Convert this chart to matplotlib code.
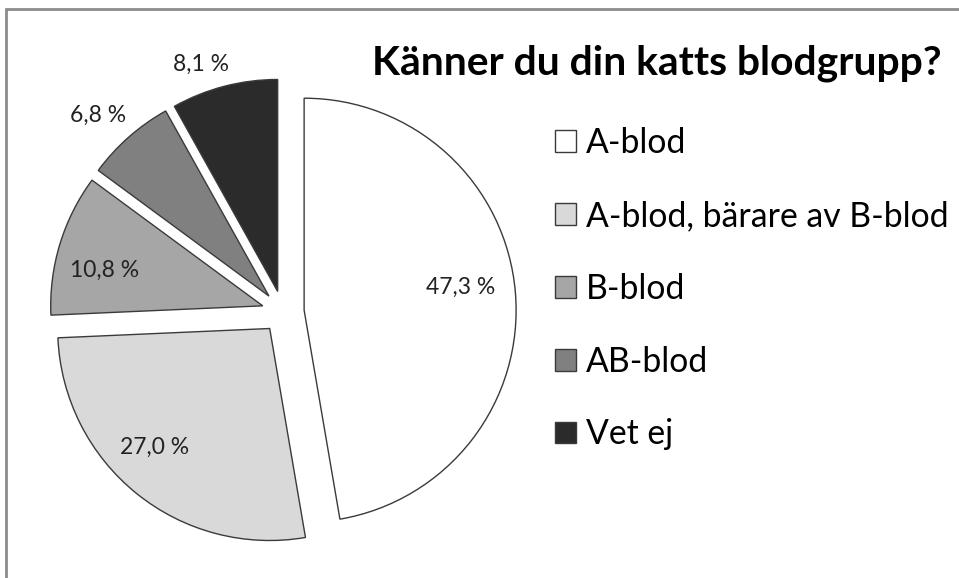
import matplotlib
matplotlib.use("Agg")
import matplotlib.pyplot as plt
import matplotlib.patches as mpatches
import numpy as np

categories = ["A-blod", "A-blod, bärare av B-blod", "B-blod", "AB-blod", "Vet ej"]
shares = [47.3, 27.0, 10.8, 6.8, 8.1]
colors = ["#ffffff", "#d9d9d9", "#a6a6a6", "#808080", "#2b2b2b"]
# where each % label sits relative to its (exploded) wedge centre:
# distance in radii, and a small turn (degrees) away from the wedge middle
label_dist = [0.748, 0.778, 0.767, 1.175, 1.13]
label_turn = [3.5, -5.2, 4.2, 2.0, 4.1]

plt.rcParams['font.family'] = ['Lato', 'DejaVu Sans']

W, H = 959, 578
fig = plt.figure(figsize=(W / 100, H / 100), dpi=100)
ax = fig.add_axes([0, 0, 1, 1])

cx, cy, r = 283, H - 312, 212
# pie's explode is in data units here, so scale by the radius
wedges, _ = ax.pie(shares, colors=colors, startangle=90, counterclock=False,
                   explode=[0.1 * r] * len(shares), radius=r, center=(cx, cy),
                   wedgeprops=dict(edgecolor='#3a3a3a', linewidth=1))
ax.set_xlim(0, W)
ax.set_ylim(0, H)
ax.set_aspect('equal')
ax.axis('off')

for w, val, d, t in zip(wedges, shares, label_dist, label_turn):
    ang = np.deg2rad((w.theta1 + w.theta2) / 2 + t)
    x = w.center[0] + d * r * np.cos(ang)
    y = w.center[1] + d * r * np.sin(ang)
    txt = f"{val:.1f}".replace(".", ",") + " %"
    ax.text(x, y, txt, ha='center', va='center', fontsize=16.5, color='#222222')

# grey frame (only left and top edges fall inside the picture)
fig.patches.append(mpatches.Rectangle((6 / W, -0.1), 1.2, 569 / H + 0.1,
                                      fill=False, edgecolor='#8c8c8c', lw=2,
                                      transform=fig.transFigure, figure=fig))

fig.text(657 / W, 1 - 75 / H, "Känner du din katts blodgrupp?", ha='center',
         va='baseline', fontsize=29.4, fontweight='bold', color='black')

fig.legend(wedges, categories, loc='upper left', bbox_to_anchor=(555 / W, 1 - 127 / H),
           frameon=False, fontsize=24.3, handlelength=0.62, handleheight=0.62,
           handletextpad=0.3, labelspacing=1.21, borderpad=0, borderaxespad=0)

fig.savefig("out.png", dpi=100)
